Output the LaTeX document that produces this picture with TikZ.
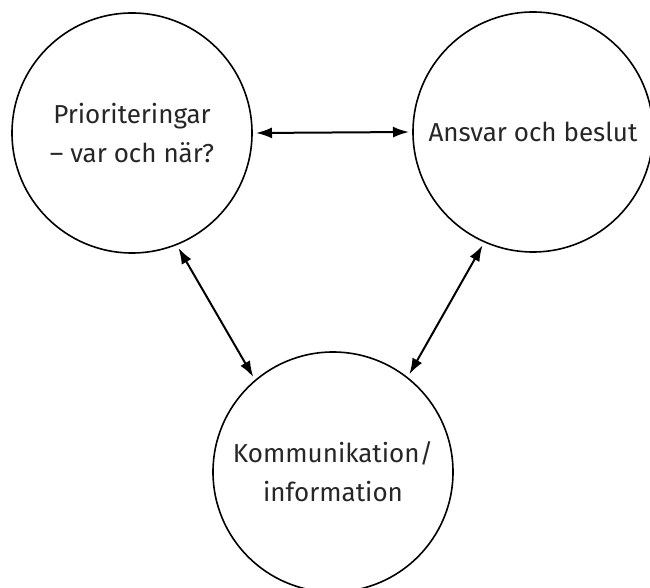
\documentclass[tikz,border=0pt]{standalone}
\usepackage{fontspec}
\setmainfont{Fira Sans}
\usepackage{tikz}
\usetikzlibrary{arrows.meta}

\begin{document}
\begin{tikzpicture}[
    x=1pt, y=1pt,
    >={Latex[length=16pt,width=11pt]},
    link/.style={draw, line width=2pt},
    topic/.style={circle, draw, line width=1.6pt, minimum size=240pt, outer sep=4pt,
                  align=center, font=\fontsize{26}{39}\selectfont, text=black!85}]

    \useasboundingbox (0,0) rectangle (650,587);

    \node[topic] (prio) at (132,454) {Prioriteringar \\ -- var och när?};
    \node[topic] (ansvar) at (533,455) {Ansvar och beslut};
    \node[topic] (komm) at (333,115) {Kommunikation/ \\ information};

    %%% Relations between topics
    \path (prio.east) edge [link, <->] (ansvar.west);
    \path (prio.-68) edge [link, <->] (komm.130);
    \path (ansvar.-114) edge [link, <->] (komm.52);

\end{tikzpicture}
\end{document}
